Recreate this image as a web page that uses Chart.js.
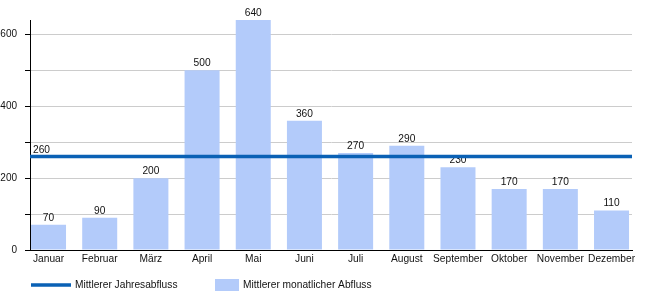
<!DOCTYPE html>
<html>
<head>
<meta charset="utf-8">
<script src="https://cdn.jsdelivr.net/npm/chart.js@4.4.0/dist/chart.umd.min.js"></script>
<style>
  html, body { margin: 0; padding: 0; background: #fff; }
  #wrap { width: 650px; height: 300px; position: relative; }
</style>
</head>
<body>
<div id="wrap"><canvas id="chartAbfluss"></canvas></div>
<script>
// ── Data ──
var months = ['Januar', 'Februar', 'März', 'April', 'Mai', 'Juni', 'Juli', 'August', 'September', 'Oktober', 'November', 'Dezember'];
var monthlyFlow = [70, 90, 200, 500, 640, 360, 270, 290, 230, 170, 170, 110];
var annualMean = 260;
var yTicks = [0, 100, 200, 300, 400, 500, 600];
var yLabelTicks = [0, 200, 400, 600];
var seriesNames = ['Mittlerer Jahresabfluss', 'Mittlerer monatlicher Abfluss'];

var LINE_COLOR = '#0A61B5';
var BAR_COLOR  = '#B3CBFA';
var TEXT_COLOR = '#111';
var FONT_SIZE = 10.2;
var FONT = FONT_SIZE + 'px "Liberation Sans", Arial, sans-serif';

Chart.defaults.font.family = '"Liberation Sans", Arial, sans-serif';
Chart.defaults.font.size = FONT_SIZE;
Chart.defaults.color = TEXT_COLOR;

// value labels above the bars (drawn before the line so the line covers them)
var barLabels = {
  id: 'barLabels',
  afterDatasetDraw: function(chart, args) {
    if (args.meta.type !== 'bar') return;
    var ctx = chart.ctx;
    ctx.save();
    ctx.font = FONT;
    ctx.fillStyle = TEXT_COLOR;
    ctx.textAlign = 'center';
    ctx.textBaseline = 'alphabetic';
    args.meta.data.forEach(function(bar, i) {
      ctx.fillText(String(monthlyFlow[i]), bar.x, bar.y - 4);
    });
    ctx.restore();
  }
};

// axis line redraw, mean label and legend
var extras = {
  id: 'extras',
  afterDatasetsDraw: function(chart) {
    var ctx = chart.ctx;
    var area = chart.chartArea;
    var y = chart.scales.y;
    var base = Math.round(y.getPixelForValue(0)) + 0.5;
    ctx.save();
    ctx.strokeStyle = '#000';
    ctx.lineWidth = 1;
    ctx.beginPath();
    ctx.moveTo(area.left, base);
    ctx.lineTo(area.right, base);
    ctx.stroke();

    ctx.font = FONT;
    ctx.fillStyle = TEXT_COLOR;
    ctx.textAlign = 'left';
    ctx.fillText(String(annualMean), area.left + 3, y.getPixelForValue(annualMean) - 4);
    ctx.restore();
  },
  afterDraw: function(chart) {
    var ctx = chart.ctx;
    var ly = 285;
    ctx.save();
    ctx.font = FONT;
    ctx.fillStyle = TEXT_COLOR;
    ctx.textBaseline = 'middle';
    ctx.textAlign = 'left';

    ctx.strokeStyle = LINE_COLOR;
    ctx.lineWidth = 3.5;
    ctx.beginPath();
    ctx.moveTo(31, ly);
    ctx.lineTo(71, ly);
    ctx.stroke();
    ctx.fillText(seriesNames[0], 75, ly);

    ctx.fillStyle = BAR_COLOR;
    ctx.fillRect(215, ly - 6, 24, 12);
    ctx.fillStyle = TEXT_COLOR;
    ctx.fillText(seriesNames[1], 243, ly);
    ctx.restore();
  }
};

new Chart(document.getElementById('chartAbfluss'), {
  type: 'bar',
  data: {
    datasets: [
      {
        type: 'line',
        label: seriesNames[0],
        data: [{ x: 0, y: annualMean }, { x: 1, y: annualMean }],
        xAxisID: 'xl',
        borderColor: LINE_COLOR,
        borderWidth: 3.5,
        pointRadius: 0,
        order: 0
      },
      {
        type: 'bar',
        label: seriesNames[1],
        data: monthlyFlow.map(function(v, i) { return { x: i, y: v }; }),
        xAxisID: 'x',
        backgroundColor: BAR_COLOR,
        borderWidth: 0,
        grouped: false,
        categoryPercentage: 1,
        barPercentage: 0.684,
        order: 1
      }
    ]
  },
  options: {
    responsive: true,
    maintainAspectRatio: false,
    animation: false,
    layout: { padding: { top: 20, right: 18, bottom: 30, left: 0 } },
    plugins: { legend: { display: false }, tooltip: { enabled: false } },
    scales: {
      x: {
        type: 'linear',
        min: -0.362,
        max: 11.4,
        offset: false,
        grid: { display: false, drawTicks: false, offset: false },
        border: { display: true, color: '#000', width: 1 },
        afterBuildTicks: function(scale) {
          scale.ticks = months.map(function(m, i) { return { value: i }; });
        },
        afterFit: function(scale) { scale.height = 20; },
        ticks: {
          autoSkip: false,
          maxRotation: 0,
          padding: 3,
          callback: function(v) { return months[v]; }
        }
      },
      xl: {
        type: 'linear',
        min: 0,
        max: 1,
        offset: false,
        grid: { offset: false },
        display: false
      },
      y: {
        min: 0,
        max: 640,
        afterBuildTicks: function(scale) {
          scale.ticks = yTicks.map(function(v) { return { value: v }; });
        },
        afterFit: function(scale) { scale.width = 30; },
        grid: { color: '#CCCCCC', tickColor: '#000', tickLength: 5, lineWidth: 1 },
        border: { display: true, color: '#000', width: 1 },
        ticks: {
          padding: 8,
          font: { size: 10 },
          callback: function(v) { return yLabelTicks.indexOf(v) >= 0 ? String(v) : ''; }
        }
      }
    }
  },
  plugins: [barLabels, extras]
});
</script>
</body>
</html>
